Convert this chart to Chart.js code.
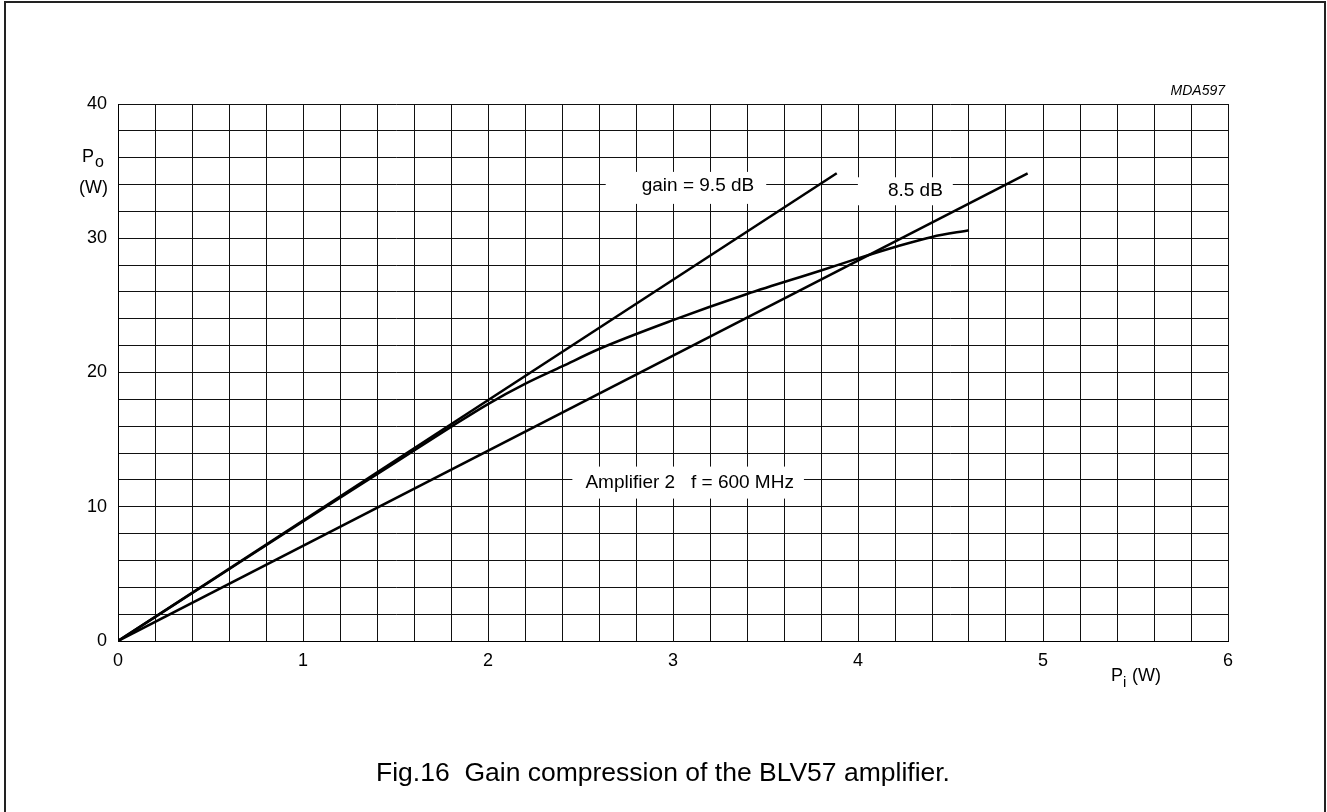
<!DOCTYPE html>
<html>
<head>
<meta charset="utf-8">
<script src="https://cdn.jsdelivr.net/npm/chart.js@4"></script>
<style>
  html, body { margin: 0; padding: 0; background: #fff; }
  #wrap { width: 1327px; height: 812px; position: relative; }
</style>
</head>
<body>
<div id="wrap"><canvas id="grafico"></canvas></div>
<script>
// values
const gain95In = [0, 3.885];
const gain95Out = [0, 34.84];
const gain85In = [0, 4.917];
const gain85Out = [0, 34.84];
const ampIn = [0, 0.5, 1.0, 1.5, 1.8, 2.0, 2.2, 2.4, 2.6, 3.0, 3.4, 3.8, 4.0, 4.2, 4.4, 4.6];
const ampOut = [0, 4.45, 8.9, 13.3, 15.95, 17.65, 19.15, 20.45, 21.75, 23.9, 25.85, 27.6, 28.5, 29.35, 30.1, 30.6];
const xTicks = [0, 1, 2, 3, 4, 5, 6];
const yTicks = [0, 10, 20, 30, 40];

const FONT = "Liberation Sans, Arial, Helvetica, sans-serif";

function pts(xs, ys) {
  return xs.map(function (x, i) { return { x: x, y: ys[i] }; });
}

// labels placed in data units, white box in px around the text
const notes = [
  { x: 3.135, y: 33.9, text: "gain = 9.5 dB", padL: 36, padR: 12, padT: 14, padB: 18 },
  { x: 4.31, y: 33.5, text: "8.5 dB", padL: 30, padR: 10, padT: 14, padB: 14 },
  { x: 3.09, y: 11.8, text: "Amplifier 2   f = 600 MHz", padL: 13, padR: 10, padT: 16, padB: 16 },
];

const extras = {
  id: "extras",
  beforeDatasetsDraw: function (chart) {
    const c = chart.ctx;
    const xs = chart.scales.x, ys = chart.scales.y;
    c.save();
    c.font = "19px " + FONT;
    c.textBaseline = "middle";
    c.textAlign = "center";
    notes.forEach(function (n) {
      const px = xs.getPixelForValue(n.x), py = ys.getPixelForValue(n.y);
      const w = c.measureText(n.text).width;
      c.fillStyle = "#fff";
      c.fillRect(px - w / 2 - n.padL, py - n.padT, w + n.padL + n.padR, n.padT + n.padB);
      c.fillStyle = "#000";
      c.fillText(n.text, px, py);
    });
    c.restore();
  },
  afterDraw: function (chart) {
    const c = chart.ctx;
    const a = chart.chartArea;
    c.save();
    // outer frame
    c.strokeStyle = "#222";
    c.lineWidth = 2;
    c.strokeRect(5, 2, 1320, 820);
    c.fillStyle = "#000";
    c.textBaseline = "alphabetic";
    // y axis title
    c.textAlign = "left";
    c.font = "18px " + FONT;
    c.fillText("P", 82, 162);
    c.font = "16px " + FONT;
    c.fillText("o", 95, 167);
    c.font = "18px " + FONT;
    c.textAlign = "right";
    c.fillText("(W)", 108, 193);
    // x axis title
    c.textAlign = "left";
    c.fillText("P", 1111, 681);
    c.font = "15px " + FONT;
    c.fillText("i", 1123, 687);
    c.font = "18px " + FONT;
    c.fillText(" (W)", 1127, 681);
    // code
    c.textAlign = "right";
    c.font = "italic 14px " + FONT;
    c.fillText("MDA597", a.right - 3, 95);
    // caption
    c.textAlign = "center";
    c.font = "26.5px " + FONT;
    c.fillText("Fig.16  Gain compression of the BLV57 amplifier.", 663, 781);
    c.restore();
  },
};

function isMajor(v, list) {
  return list.some(function (t) { return Math.abs(t - v) < 1e-6; });
}

document.addEventListener("DOMContentLoaded", function () {
  let ctx = document.getElementById("grafico").getContext("2d");
  const lineStyle = {
    borderColor: "#000",
    borderWidth: 2.5,
    pointRadius: 0,
    fill: false,
    showLine: true,
  };

  new Chart(ctx, {
    type: "scatter",
    data: {
      datasets: [
        Object.assign({ label: "gain = 9.5 dB", data: pts(gain95In, gain95Out) }, lineStyle),
        Object.assign({ label: "8.5 dB", data: pts(gain85In, gain85Out) }, lineStyle),
        Object.assign({ label: "Amplifier 2", data: pts(ampIn, ampOut), cubicInterpolationMode: "monotone" }, lineStyle),
      ],
    },
    options: {
      responsive: true,
      maintainAspectRatio: false,
      animation: false,
      layout: { padding: { left: 0, right: 99, top: 104, bottom: 141 } },
      plugins: { legend: { display: false }, tooltip: { enabled: false } },
      scales: {
        x: {
          type: "linear",
          min: 0,
          max: 6,
          afterFit: function (s) { s.height = 30; },
          grid: { color: "#111", lineWidth: 1, drawTicks: false },
          border: { color: "#000", width: 1 },
          ticks: {
            stepSize: 0.2,
            autoSkip: false,
            maxRotation: 0,
            padding: 9,
            color: "#000",
            font: { family: FONT, size: 18 },
            callback: function (v) { return isMajor(v, xTicks) ? String(Math.round(v)) : ""; },
          },
        },
        y: {
          type: "linear",
          min: 0,
          max: 40,
          afterFit: function (s) { s.width = 118; },
          grid: { color: "#111", lineWidth: 1, drawTicks: false },
          border: { color: "#000", width: 1 },
          ticks: {
            stepSize: 2,
            autoSkip: false,
            padding: 11,
            color: "#000",
            font: { family: FONT, size: 18 },
            callback: function (v) { return isMajor(v, yTicks) ? String(Math.round(v)) : ""; },
          },
        },
      },
    },
    plugins: [extras],
  });
});
</script>
</body>
</html>
